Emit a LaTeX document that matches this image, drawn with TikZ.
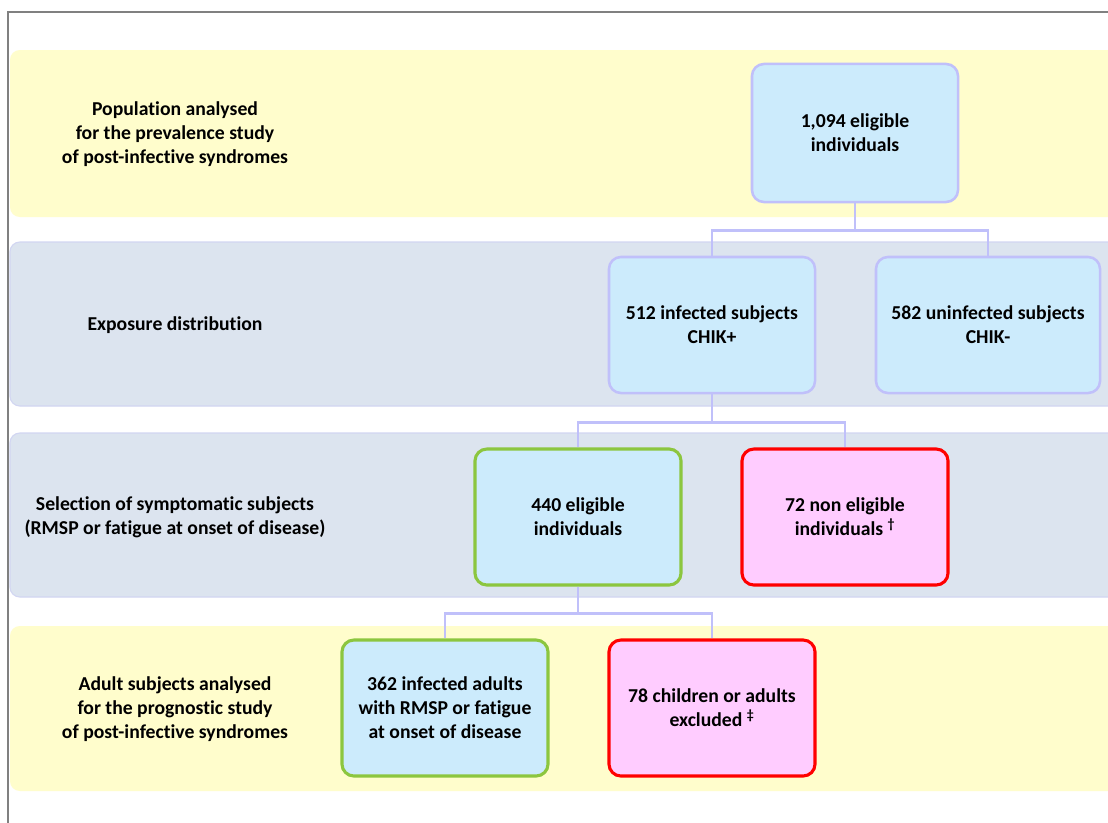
\documentclass[tikz,border=0pt]{standalone}
\usepackage{fontspec}
\setmainfont{Carlito}[RawFeature={-liga;-calt;-clig}]
\definecolor{bandyellow}{HTML}{FFFDCC}
\definecolor{bandblue}{HTML}{DCE4EF}
\definecolor{bandedge}{HTML}{D2D6F2}
\definecolor{boxblue}{HTML}{CCEBFC}
\definecolor{lavender}{HTML}{C0C0FA}
\definecolor{okgreen}{HTML}{8CC63F}
\definecolor{pinkfill}{HTML}{FFCCFF}

\begin{document}
\begin{tikzpicture}[x=0.025cm,y=-0.025cm,
    font=\fontsize{14}{17}\selectfont\bfseries,
    box/.style={draw=lavender,line width=1.8pt,fill=boxblue,rounded corners=8.5pt,
        align=center,minimum width=5.15cm,minimum height=3.4cm},
    keep/.style={box,draw=okgreen,line width=2.2pt},
    drop/.style={box,draw=red,fill=pinkfill,line width=2.2pt},
    stage/.style={align=center},
    link/.style={draw=lavender,line width=1.8pt}]
            \clip (0,0) rectangle (1108,822);
            \fill[white] (0,0) rectangle (1108,822);
            \draw[gray,line width=1.2pt] (8,830) -- (8,12) -- (1120,12);
            \foreach \top/\bot in {50/217, 626/791}
                \fill[bandyellow,rounded corners=7pt] (10,\top) rectangle (1130,\bot);
            \foreach \top/\bot in {242/406, 433/597}
                \draw[bandedge,fill=bandblue,line width=0.8pt,rounded corners=7pt] (10,\top) rectangle (1130,\bot);

            \node[stage] (lblpop) at (175,134) {Population analysed\\for the prevalence study\\of post-infective syndromes};
            \node[stage] (lblexp) at (175,325) {Exposure distribution};
            \node[stage] (lblsel) at (175,517) {Selection of symptomatic subjects\\(RMSP or fatigue at onset of disease)};
            \node[stage] (lbladult) at (175,709) {Adult subjects analysed\\for the prognostic study\\of post-infective syndromes};

            \node[box,minimum height=3.45cm] (pop) at (855,133) {1,094 eligible\\individuals};
            \node[box] (infected) at (712,325) {512 infected subjects\\CHIK+};
            \node[box,minimum width=5.6cm] (uninfected) at (988,325) {582 uninfected subjects\\CHIK-};
            \node[keep] (eligible) at (578,517) {440 eligible\\individuals};
            \node[drop] (noneligible) at (845,517) {72 non eligible\\individuals \textsuperscript{†}};
            \node[keep] (adults) at (445,708) {362 infected adults\\with RMSP or fatigue\\at onset of disease};
            \node[drop] (excluded) at (712,708) {78 children or adults\\excluded \textsuperscript{‡}};

            \draw[link] (pop.south) -- ++(0,27) -| (infected.north);
            \draw[link] (pop.south) -- ++(0,27) -| (uninfected.north);
            \draw[link] (infected.south) -- ++(0,28) -| (eligible.north);
            \draw[link] (infected.south) -- ++(0,28) -| (noneligible.north);
            \draw[link] (eligible.south) -- ++(0,27) -| (adults.north);
            \draw[link] (eligible.south) -- ++(0,27) -| (excluded.north);
        \end{tikzpicture}
\end{document}
